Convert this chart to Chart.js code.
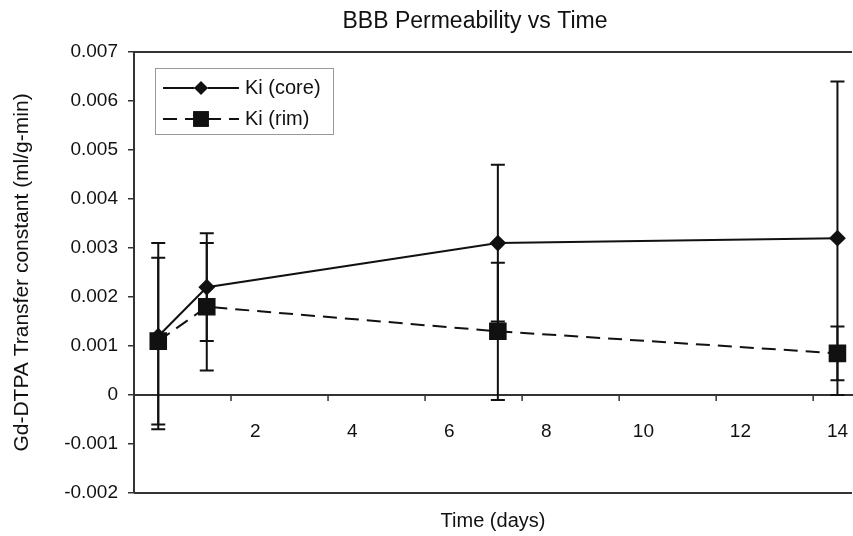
<!DOCTYPE html>
<html>
<head>
<meta charset="utf-8">
<script src="https://cdn.jsdelivr.net/npm/chart.js@4.4.1/dist/chart.umd.min.js"></script>
<style>
  body { margin: 0; background: #fff; }
  #wrap { width: 853px; height: 536px; }
</style>
</head>
<body>
<div id="wrap"><canvas id="chart"></canvas></div>
<script>
// Data
const days = [0, 1, 7, 14];
const coreKi = [0.0012, 0.0022, 0.0031, 0.0032];
const coreErr = [0.0019, 0.0011, 0.0016, 0.0032];
const rimKi = [0.0011, 0.0018, 0.0013, 0.00085];
const rimErr = [0.0017, 0.0013, 0.0014, 0.00055];

const xTickLabels = [2, 4, 6, 8, 10, 12, 14];
const xTickMarks = [1.5, 3.5, 5.5, 7.5, 9.5, 11.5, 13.5];
const yTickValues = [-0.002, -0.001, 0, 0.001, 0.002, 0.003, 0.004, 0.005, 0.006, 0.007];

const chartTitle = 'BBB Permeability vs Time';

const FONT = 'Liberation Sans, Arial, Helvetica, sans-serif';
const INK = '#111';

// Error bars, frame, x tick marks, title and legend box
const extras = {
  id: 'extras',
  beforeDatasetsDraw(chart) {
    const { ctx, scales: { x, y }, chartArea: a } = chart;
    ctx.save();
    ctx.strokeStyle = INK;
    ctx.lineWidth = 2;
    const sets = [[coreKi, coreErr], [rimKi, rimErr]];
    sets.forEach(([vals, errs]) => {
      vals.forEach((v, i) => {
        const px = x.getPixelForValue(days[i]);
        const top = y.getPixelForValue(v + errs[i]);
        const bot = y.getPixelForValue(v - errs[i]);
        ctx.beginPath();
        ctx.moveTo(px, top); ctx.lineTo(px, bot);
        ctx.moveTo(px - 7, top); ctx.lineTo(px + 7, top);
        ctx.moveTo(px - 7, bot); ctx.lineTo(px + 7, bot);
        ctx.stroke();
      });
    });
    // frame lines: top and bottom of plot area
    ctx.strokeStyle = '#333';
    ctx.beginPath();
    ctx.moveTo(a.left, a.top); ctx.lineTo(a.right, a.top);
    ctx.moveTo(a.left, a.bottom); ctx.lineTo(a.right, a.bottom);
    ctx.stroke();
    // x tick marks below the zero line
    const y0 = y.getPixelForValue(0);
    ctx.lineWidth = 1.5;
    ctx.beginPath();
    xTickMarks.forEach(t => {
      const px = x.getPixelForValue(t);
      ctx.moveTo(px, y0); ctx.lineTo(px, y0 + 6);
    });
    ctx.stroke();
    // chart title
    ctx.fillStyle = INK;
    ctx.font = '23px ' + FONT;
    ctx.textAlign = 'center';
    ctx.textBaseline = 'middle';
    ctx.fillText(chartTitle, 475, 22);
    ctx.restore();
  },
  afterDraw(chart) {
    const { ctx, chartArea: a } = chart;
    const bx = a.left + 21, by = a.top + 16;
    ctx.save();
    ctx.fillStyle = '#fff';
    ctx.fillRect(bx, by, 178, 66);
    ctx.strokeStyle = '#999';
    ctx.lineWidth = 1;
    ctx.strokeRect(bx + 0.5, by + 0.5, 178, 66);
    chart.data.datasets.forEach((ds, i) => {
      const ly = by + 20 + i * 31;
      ctx.strokeStyle = INK;
      ctx.lineWidth = 2;
      ctx.setLineDash(ds.borderDash || []);
      ctx.beginPath();
      ctx.moveTo(bx + 8, ly); ctx.lineTo(bx + 84, ly);
      ctx.stroke();
      ctx.setLineDash([]);
      Chart.helpers.drawPoint(ctx, { pointStyle: ds.pointStyle, radius: ds.pointRadius, borderWidth: 0 }, bx + 46, ly);
      ctx.fillStyle = INK;
      ctx.fill();
      ctx.font = '20px ' + FONT;
      ctx.textBaseline = 'middle';
      ctx.fillText(ds.label, bx + 90, ly);
    });
    ctx.restore();
  }
};

new Chart(document.getElementById('chart'), {
  type: 'scatter',
  data: {
    datasets: [
      {
        label: 'Ki (core)',
        data: days.map((d, i) => ({ x: d, y: coreKi[i] })),
        showLine: true,
        borderColor: INK,
        backgroundColor: INK,
        borderWidth: 2,
        pointStyle: 'rectRot',
        pointRadius: 7,
        pointHoverRadius: 7,
      },
      {
        label: 'Ki (rim)',
        data: days.map((d, i) => ({ x: d, y: rimKi[i] })),
        showLine: true,
        borderColor: INK,
        backgroundColor: INK,
        borderWidth: 2,
        borderDash: [14, 8],
        pointStyle: 'rect',
        pointRadius: 11,
        pointHoverRadius: 11,
      },
    ],
  },
  options: {
    responsive: true,
    maintainAspectRatio: false,
    animation: false,
    layout: { autoPadding: false, padding: { left: 0, right: 1, top: 52, bottom: 0 } },
    plugins: {
      legend: { display: false },
      tooltip: { enabled: false },
      title: { display: false },
      subtitle: {
        display: true,
        position: 'bottom',
        fullSize: false,
        text: 'Time (days)',
        color: INK,
        font: { family: FONT, size: 20, weight: 'normal' },
        padding: { top: 16, bottom: 3 },
      },
    },
    scales: {
      x: {
        type: 'linear',
        min: -0.5,
        max: 14.3,
        position: { y: 0 },
        afterBuildTicks: (s) => { s.ticks = xTickLabels.map(v => ({ value: v })); },
        afterFit: (s) => { s.paddingLeft = 0; s.paddingRight = 0; },
        grid: { display: false, drawTicks: false },
        border: { display: true, color: '#333', width: 2 },
        ticks: { color: INK, padding: 25, font: { family: FONT, size: 19 } },
      },
      y: {
        min: -0.002,
        max: 0.007,
        afterBuildTicks: (s) => { s.ticks = yTickValues.map(v => ({ value: v })); },
        afterFit: (s) => { s.width = 134; },
        grid: { drawOnChartArea: false, tickLength: 6, color: '#333', lineWidth: 1.5 },
        border: { display: true, color: '#333', width: 2 },
        ticks: {
          color: INK,
          padding: 10,
          font: { family: FONT, size: 19 },
          callback: (v) => Math.abs(v) < 1e-9 ? '0' : v.toFixed(3),
        },
        title: {
          display: true,
          text: 'Gd-DTPA Transfer constant (ml/g-min)',
          color: INK,
          font: { family: FONT, size: 21 },
          padding: { top: 10, bottom: 0 },
        },
      },
    },
  },
  plugins: [extras],
});
</script>
</body>
</html>
